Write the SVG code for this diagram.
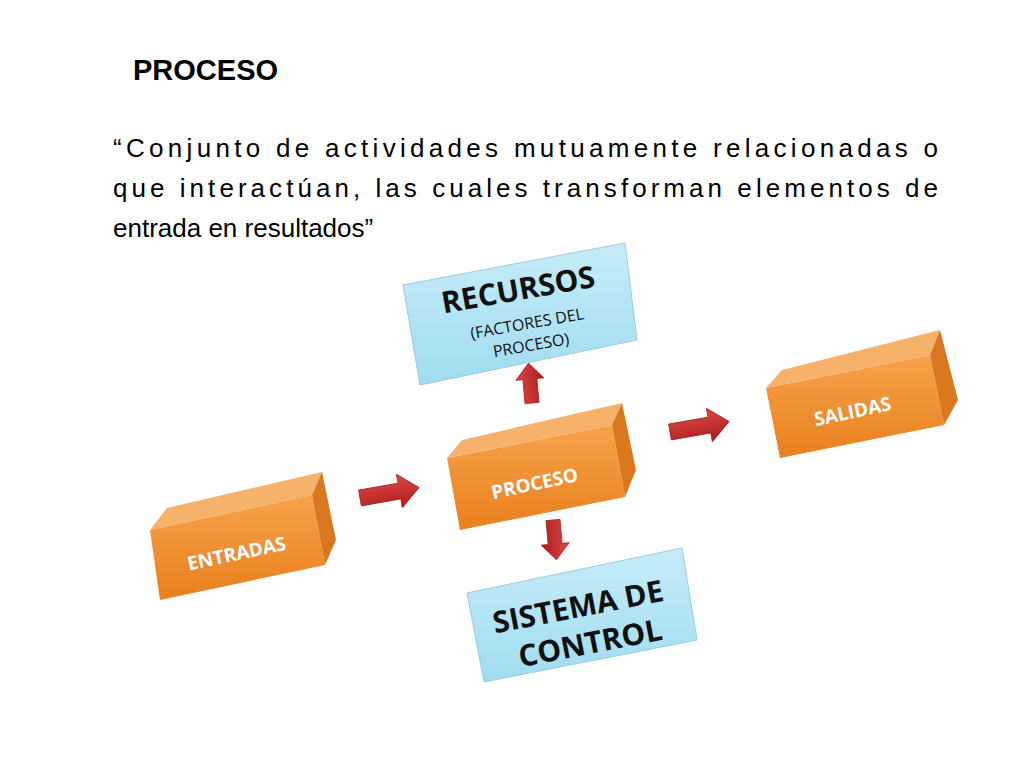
<svg xmlns="http://www.w3.org/2000/svg" width="1024" height="768" viewBox="0 0 1024 768">
<defs>
<style>
.front{fill:url(#og)}
.top{fill:#f6b26b}
.side{fill:#d9781f}
.lbl{font-family:"Open Sans","Liberation Sans",sans-serif;font-weight:bold;fill:#fff;font-size:19px;text-anchor:middle}
.blue{fill:url(#bg);stroke:#9ccbe0;stroke-width:1}
.btx{font-family:"Open Sans","Liberation Sans",sans-serif;fill:#111;text-anchor:middle}
.arr{fill:url(#rg);stroke:#a32020;stroke-width:0.8}
</style>
<linearGradient id="og" x1="0" y1="0" x2="0" y2="1"><stop offset="0" stop-color="#f7a24a"/><stop offset="1" stop-color="#e8801f"/></linearGradient>
<linearGradient id="bg" x1="0" y1="0" x2="0" y2="1"><stop offset="0" stop-color="#c7ecf8"/><stop offset="1" stop-color="#9fdcf0"/></linearGradient>
<linearGradient id="rg" x1="0" y1="0" x2="0" y2="1"><stop offset="0" stop-color="#e04848"/><stop offset="1" stop-color="#a81c1c"/></linearGradient>
</defs>
<rect width="1024" height="768" fill="#fff"/>
<text x="133" y="80" font-family="Liberation Sans,sans-serif" font-weight="bold" font-size="29" fill="#000">PROCESO</text>
<g font-family="Liberation Sans,sans-serif" font-size="26" fill="#000">
<text x="113" y="157" textLength="825" lengthAdjust="spacing">“Conjunto de actividades mutuamente relacionadas o</text>
<text x="113" y="197" textLength="825" lengthAdjust="spacing">que interactúan, las cuales transforman elementos de</text>
<text x="113" y="237">entrada en resultados”</text>
</g>
<g id="connectors">
<polygon class="arr" points="0,-8 40,-8 40,-17 60,0 40,17 40,8 0,8" transform="translate(360,498) rotate(-10)"/>
<polygon class="arr" points="0,-8 40,-8 40,-17 60,0 40,17 40,8 0,8" transform="translate(670,432) rotate(-10)"/>
<polygon class="arr" points="0,-7 24,-7 24,-14 40,0 24,14 24,7 0,7" transform="translate(532,403) rotate(-95)"/>
<polygon class="arr" points="0,-7 24,-7 24,-14 40,0 24,14 24,7 0,7" transform="translate(553,520) rotate(85)"/>
</g>
<g id="recursos">
<polygon class="blue" points="403,285 625,243 637,340 420,385"/>
<g transform="translate(520,300) rotate(-10)">
<text class="btx" x="0" y="0" font-size="30" font-weight="bold">RECURSOS</text>
<text class="btx" x="3" y="30" font-size="16">(FACTORES DEL</text>
<text class="btx" x="3" y="52" font-size="16">PROCESO)</text>
</g>
</g>
<g id="control">
<polygon class="blue" points="467,593 682,548 697,640 484,682"/>
<g transform="translate(580,617) rotate(-11)">
<text class="btx" x="0" y="0" font-size="30" font-weight="bold">SISTEMA DE</text>
<text class="btx" x="5" y="38" font-size="30" font-weight="bold">CONTROL</text>
</g>
</g>
<g id="entradas">
<polygon class="front" points="150,530 312,495 325,565 160,600"/>
<polygon class="top" points="150,530 167,508 322,472 312,495"/>
<polygon class="side" points="312,495 322,472 336,540 325,565"/>
<text class="lbl" transform="translate(238,560) rotate(-12)">ENTRADAS</text>
</g>
<g id="proceso">
<polygon class="front" points="447,458 612,425 625,497 460,530"/>
<polygon class="top" points="447,458 462,440 622,403 612,425"/>
<polygon class="side" points="612,425 622,403 636,470 625,497"/>
<text class="lbl" transform="translate(536,490) rotate(-12)">PROCESO</text>
</g>
<g id="salidas">
<polygon class="front" points="766,388 930,355 944,425 780,458"/>
<polygon class="top" points="766,388 782,370 940,330 930,355"/>
<polygon class="side" points="930,355 940,330 958,400 944,425"/>
<text class="lbl" transform="translate(854,418) rotate(-12)">SALIDAS</text>
</g>
</svg>
